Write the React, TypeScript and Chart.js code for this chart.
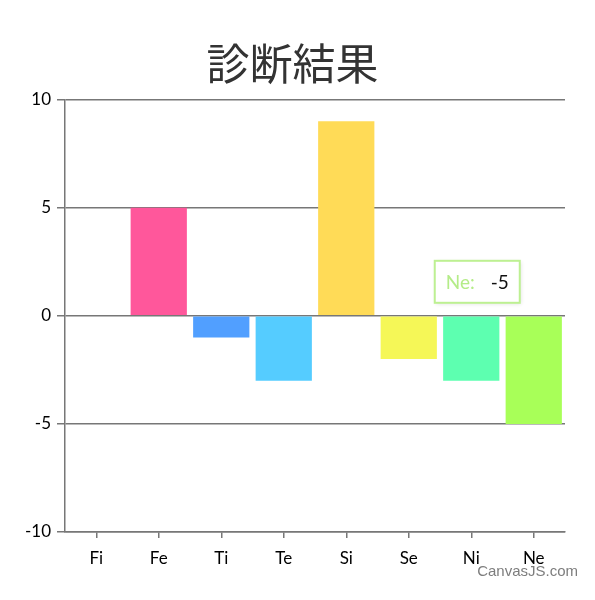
import { useEffect, useRef } from 'react'
import { Chart, registerables, type ChartConfiguration, type Plugin } from 'chart.js'

Chart.register(...registerables)

const title = '診断結果'
const categories = ['Fi', 'Fe', 'Ti', 'Te', 'Si', 'Se', 'Ni', 'Ne']
const values = [0, 5, -1, -3, 9, -2, -3, -5]
const barColors = ['#FF66AA', '#FF579B', '#519FFF', '#55CCFF', '#FFDB57', '#F5F757', '#5DFFB0', '#A8FF58']
const yMin = -10
const yMax = 10
const yStep = 5
const highlighted = 7 // index shown in the tooltip

const FONT = 'Lato, "Open Sans", sans-serif'
const LINE = '#777'

const overlay: Plugin<'bar'> = {
  id: 'overlay',
  afterDraw(chart) {
    const { ctx } = chart
    const el = chart.getDatasetMeta(0).data[highlighted]
    const base = chart.scales.y.getPixelForValue(0)
    if (el) {
      const w = 85, h = 42
      const left = el.x - 99
      const top = base - 55
      ctx.save()
      ctx.shadowColor = 'rgba(0,0,0,.12)'
      ctx.shadowBlur = 4
      ctx.shadowOffsetX = 1
      ctx.shadowOffsetY = 1
      ctx.fillStyle = '#fff'
      ctx.fillRect(left, top, w, h)
      ctx.shadowColor = 'transparent'
      ctx.strokeStyle = '#BDF092'
      ctx.lineWidth = 2
      ctx.strokeRect(left, top, w, h)
      ctx.font = `19px ${FONT}`
      ctx.textBaseline = 'middle'
      ctx.textAlign = 'left'
      const label = `${categories[highlighted]}:`
      ctx.fillStyle = '#B4EC88'
      ctx.fillText(label, left + 11, top + h / 2 + 1)
      ctx.fillStyle = '#111'
      ctx.fillText(String(values[highlighted]), left + 56, top + h / 2 + 1)
      ctx.restore()
    }
    ctx.save()
    ctx.font = '15px "Liberation Sans", Arial, sans-serif'
    ctx.fillStyle = '#7d7d7d'
    ctx.textAlign = 'right'
    ctx.textBaseline = 'alphabetic'
    ctx.fillText('CanvasJS.com', chart.width - 17, chart.height - 24)
    ctx.restore()
  },
}

export default function App() {
  const ref = useRef<HTMLCanvasElement>(null)
  const chartRef = useRef<Chart | null>(null)

  useEffect(() => {
    document.body.style.margin = '0'
    if (!ref.current) return
    chartRef.current?.destroy()

    const config: ChartConfiguration<'bar'> = {
      type: 'bar',
      data: {
        labels: categories,
        datasets: [{
          data: values,
          backgroundColor: barColors,
          borderWidth: 0,
          categoryPercentage: 0.9,
          barPercentage: 1,
        }],
      },
      options: {
        responsive: false,
        animation: false,
        events: [],
        layout: { padding: { left: 20, right: 30, top: 0, bottom: 28 } },
        plugins: {
          legend: { display: false },
          tooltip: { enabled: false },
          title: {
            display: true,
            text: title,
            color: '#333',
            font: { size: 43, family: '"Noto Sans CJK JP", sans-serif', weight: 'normal' },
            padding: { top: 38, bottom: 10 },
          },
        },
        scales: {
          x: {
            grid: {
              display: true,
              offset: false,
              drawOnChartArea: false,
              drawTicks: true,
              tickLength: 6,
              color: LINE,
              lineWidth: 1.5,
            },
            border: { display: true, color: LINE, width: 1.5 },
            ticks: { color: '#000', font: { size: 17, family: FONT }, padding: 10 },
            afterFit: s => { s.height = 40 },
          },
          y: {
            min: yMin,
            max: yMax,
            grid: { color: LINE, lineWidth: 1.5, tickLength: 8 },
            border: { display: true, color: LINE, width: 1.5 },
            ticks: { stepSize: yStep, color: '#000', font: { size: 17, family: FONT }, padding: 6 },
            afterFit: s => { s.width = 45 },
          },
        },
      },
      plugins: [overlay],
    }

    chartRef.current = new Chart(ref.current, config)
    return () => chartRef.current?.destroy()
  }, [])

  return <canvas ref={ref} width={595} height={600} style={{ display: 'block', width: '595px', height: '600px' }} />
}
